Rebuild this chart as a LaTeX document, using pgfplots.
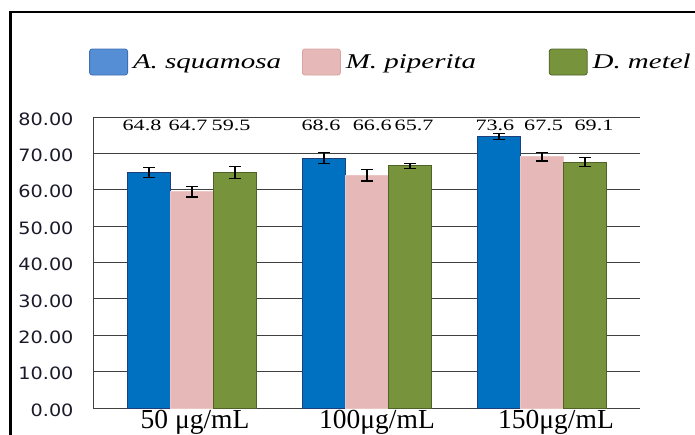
\documentclass[border=0pt]{standalone}
\usepackage{fontspec}
\usepackage{graphicx}
\setmainfont{Liberation Serif}
\newfontfamily\tickfont{DejaVu Sans}
\usepackage{pgfplots}
\pgfplotsset{compat=1.18}
\definecolor{barblue}{HTML}{0070C0}
\definecolor{barblueedge}{HTML}{1F3F7A}
\definecolor{barpink}{HTML}{E6B9B8}
\definecolor{barpinkedge}{HTML}{EBC6C5}
\definecolor{bargreen}{HTML}{77933C}
\definecolor{bargreenedge}{HTML}{4F6228}
\definecolor{legblue}{HTML}{558ED5}
\definecolor{legblueedge}{HTML}{3D6FB5}
\definecolor{legpink}{HTML}{E6B9B8}
\definecolor{legpinkedge}{HTML}{D9A3A2}
\definecolor{gridc}{HTML}{404040}
\definecolor{tickc}{HTML}{1A1A2A}
\newcommand{\wide}[1]{\scalebox{1.38}[1]{#1}}
\newcommand{\vl}[1]{\scalebox{1.4}[1]{#1}}
\begin{document}
\begin{tikzpicture}
\path[use as bounding box] (0pt,0pt) rectangle (695pt,434pt);
\draw[line width=2.5pt, black] (10.5pt,-20pt) -- (10.5pt,422pt) -- (720pt,422pt);
\begin{axis}[
  at={(93pt,26pt)}, anchor=south west,
  scale only axis, width=547pt, height=291pt,
  xmin=-0.566, xmax=2.56, ymin=0, ymax=80,
  ytick={0,10,...,80},
  xtick={0,1,2},
  xticklabels={{\hspace*{6pt}50 μg/mL},{\hspace*{20pt}100μg/mL},{\hspace*{28pt}150μg/mL}},
  yticklabel={\scalebox{1.13}[1]{\pgfmathprintnumber{\tick}}},
  axis x line*=bottom, axis y line*=left,
  axis line style={line width=1pt, color=gridc},
  ymajorgrids, grid style={line width=1pt, color=gridc},
  major tick length=0pt,
  ybar=0pt, bar width=43pt,
  yticklabel style={font=\fontsize{17}{20}\selectfont\tickfont, color=tickc, yshift=-2pt, xshift=-16pt},
  xticklabel style={font=\fontsize{27.5}{30}\selectfont\rmfamily, anchor=base, yshift=-20pt},
  /pgf/number format/.cd, fixed, fixed zerofill, precision=2, assume math mode=true,
  /pgfplots/.cd,
  legend columns=3,
  legend cell align=left,
  legend style={draw=none, fill=none, at={(-0.0073,1.189)}, anchor=west, inner sep=0pt,
    nodes={inner sep=0pt},
    /tikz/every odd column/.append style={column sep=5pt},
    /tikz/every even column/.append style={column sep=17pt},
    font=\fontsize{21}{24}\selectfont\rmfamily\itshape},
  error bars/y dir=both, error bars/y explicit,
  error bars/error bar style={line width=1.2pt, black},
  error bars/error mark options={rotate=90, mark size=6pt, line width=1.2pt, black},
]
\addplot[fill=barblue, draw=barblueedge, line width=1pt,
  legend image code/.code={\draw[fill=legblue,draw=legblueedge,line width=0.8pt,rounded corners=2.5pt] (0pt,-13pt) rectangle (38pt,13pt);}]
  table[x=x, y=y, y error=e, row sep=\\] {x y e\\ 0 64.8 1.4\\ 1 68.7 1.5\\ 2 74.7 0.8\\};
\addplot[fill=barpink, draw=barpinkedge, line width=1pt,
  legend image code/.code={\draw[fill=legpink,draw=legpinkedge,line width=0.8pt,rounded corners=2.5pt] (0pt,-13pt) rectangle (38pt,13pt);}]
  table[x=x, y=y, y error=e, row sep=\\] {x y e\\ 0 59.5 1.5\\ 1 64.0 1.6\\ 2 69.1 1.2\\};
\addplot[fill=bargreen, draw=bargreenedge, line width=1pt,
  legend image code/.code={\draw[fill=bargreen,draw=bargreenedge,line width=0.8pt,rounded corners=2.5pt] (0pt,-13pt) rectangle (38pt,13pt);}]
  table[x=x, y=y, y error=e, row sep=\\] {x y e\\ 0 64.7 1.6\\ 1 66.6 0.7\\ 2 67.6 1.2\\};
\legend{\makebox[152pt][l]{\wide{A. squamosa}},\makebox[186pt][l]{\wide{M. piperita}},\wide{D. metel}}
\begin{scope}[every node/.style={font=\fontsize{15.8}{18}\selectfont\rmfamily, anchor=base, inner sep=0pt}]
\node at (axis cs:-0.286,76.4) {\vl{64.8}};
\node at (axis cs:-0.023,76.4) {\vl{64.7}};
\node at (axis cs:0.223,76.4) {\vl{59.5}};
\node at (axis cs:0.737,76.4) {\vl{68.6}};
\node at (axis cs:1.03,76.4) {\vl{66.6}};
\node at (axis cs:1.269,76.4) {\vl{65.7}};
\node at (axis cs:1.731,76.4) {\vl{73.6}};
\node at (axis cs:2.009,76.4) {\vl{67.5}};
\node at (axis cs:2.297,76.4) {\vl{69.1}};
\end{scope}
\end{axis}
\end{tikzpicture}
\end{document}
